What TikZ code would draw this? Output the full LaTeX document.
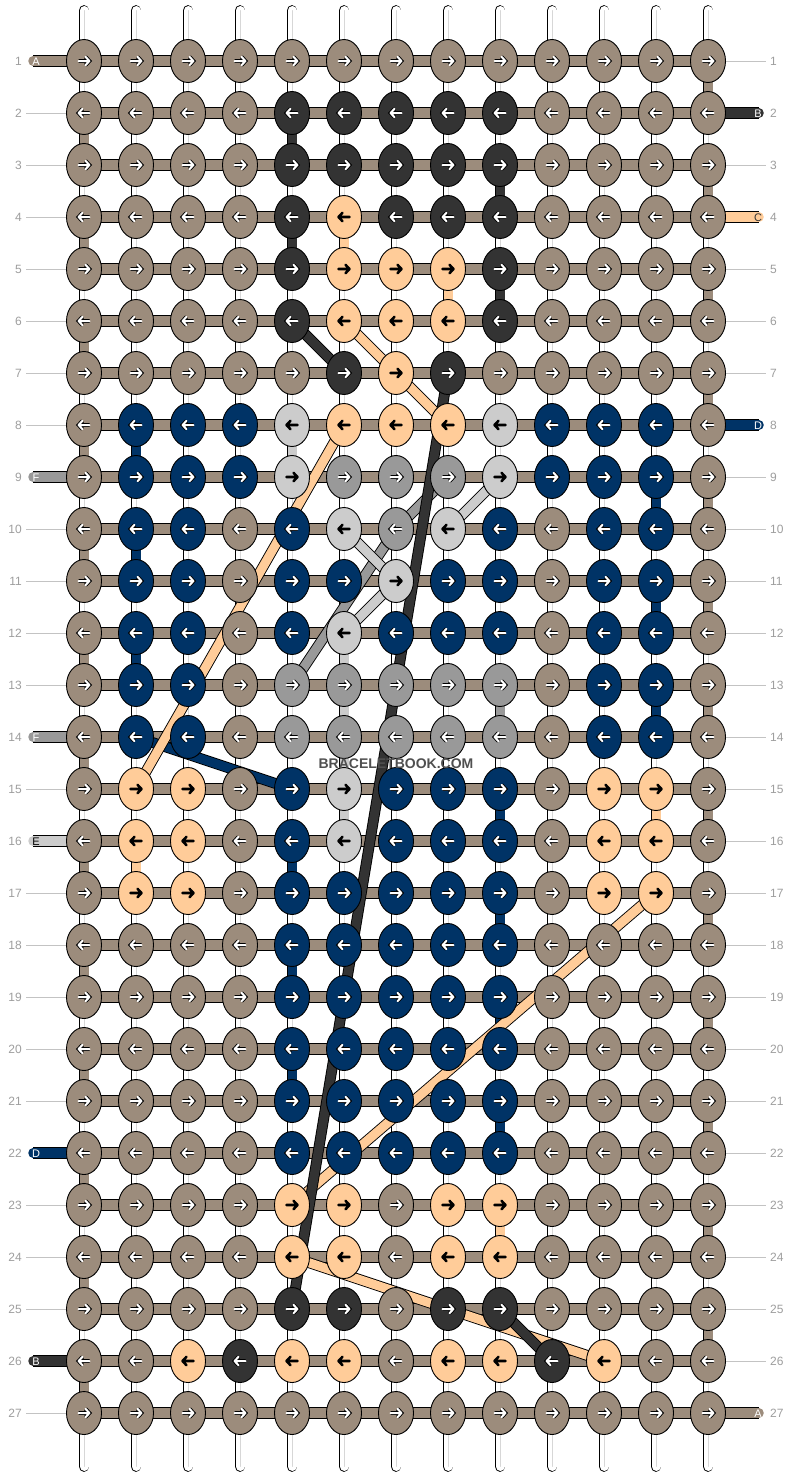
\documentclass[tikz,border=0pt]{standalone}
\usepackage{fontspec}
\setmainfont{Liberation Sans}
\usetikzlibrary{shapes.geometric}
\definecolor{cA}{RGB}{156,140,124}
\definecolor{cB}{RGB}{51,51,51}
\definecolor{cC}{RGB}{255,204,153}
\definecolor{cD}{RGB}{0,51,102}
\definecolor{cE}{RGB}{204,204,204}
\definecolor{cF}{RGB}{153,153,153}
\definecolor{numgray}{RGB}{158,158,158}
\definecolor{linegray}{RGB}{195,195,195}
\definecolor{midgray}{RGB}{215,215,215}
\definecolor{wmgray}{RGB}{80,80,80}
\pgfdeclarelayer{base}
\pgfdeclarelayer{bars}
\pgfdeclarelayer{threads}
\pgfsetlayers{base,bars,threads,main}
\tikzset{
  knot/.style={ellipse, draw=black, line width=0.9pt, minimum width=35pt, minimum height=43pt, inner sep=0pt},
  kb/.style={knot, fill=cA}, kd/.style={knot, fill=cB}, kp/.style={knot, fill=cC},
  kn/.style={knot, fill=cD}, kg/.style={knot, fill=cF}, kl/.style={knot, fill=cE},
  arrW/.style={white, line width=2pt, line cap=round, line join=round, preaction={draw=black, line width=3.8pt}},
  arrK/.style={black, line width=2.6pt, line cap=round, line join=round},
  ab/.style={arrW}, ad/.style={arrW}, an/.style={arrW}, ag/.style={arrW}, ap/.style={arrK}, al/.style={arrK},
  thread/.style={line width=9pt, line cap=butt, preaction={draw=black, line width=10.8pt}},
  barstyle/.style={draw=cA, line width=9.5pt, line cap=butt, preaction={draw=black, line width=11.5pt}},
  stub/.style={line width=9.5pt, line cap=round, preaction={draw=black, line width=11.5pt}},
  basestr/.style={draw=white, line width=9pt, line cap=round, preaction={draw=black, line width=10.8pt, line cap=round}, postaction={draw=midgray, line width=0.8pt}},
  rowline/.style={draw=linegray, line width=1pt},
  rownum/.style={text=numgray, font=\fontsize{12}{12}\selectfont, inner sep=0pt},
  stubtxt/.style={font=\fontsize{11}{11}\selectfont, inner sep=0pt},
}
\begin{document}
\begin{tikzpicture}[x=1pt,y=-1pt]
\useasboundingbox (0,0) rectangle (792,1476);
\begin{pgfonlayer}{base}
\fill[white] (0,0) rectangle (792,1476);
\end{pgfonlayer}
% knots
\foreach \r/\L in {
 1/{b,b,b,b,b,b,b,b,b,b,b,b,b},
 2/{b,b,b,b,d,d,d,d,d,b,b,b,b},
 3/{b,b,b,b,d,d,d,d,d,b,b,b,b},
 4/{b,b,b,b,d,p,d,d,d,b,b,b,b},
 5/{b,b,b,b,d,p,p,p,d,b,b,b,b},
 6/{b,b,b,b,d,p,p,p,d,b,b,b,b},
 7/{b,b,b,b,b,d,p,d,b,b,b,b,b},
 8/{b,n,n,n,l,p,p,p,l,n,n,n,b},
 9/{b,n,n,n,l,g,g,g,l,n,n,n,b},
 10/{b,n,n,b,n,l,g,l,n,b,n,n,b},
 11/{b,n,n,b,n,n,l,n,n,b,n,n,b},
 12/{b,n,n,b,n,l,n,n,n,b,n,n,b},
 13/{b,n,n,b,g,g,g,g,g,b,n,n,b},
 14/{b,n,n,b,g,g,g,g,g,b,n,n,b},
 15/{b,p,p,b,n,l,n,n,n,b,p,p,b},
 16/{b,p,p,b,n,l,n,n,n,b,p,p,b},
 17/{b,p,p,b,n,n,n,n,n,b,p,p,b},
 18/{b,b,b,b,n,n,n,n,n,b,b,b,b},
 19/{b,b,b,b,n,n,n,n,n,b,b,b,b},
 20/{b,b,b,b,n,n,n,n,n,b,b,b,b},
 21/{b,b,b,b,n,n,n,n,n,b,b,b,b},
 22/{b,b,b,b,n,n,n,n,n,b,b,b,b},
 23/{b,b,b,b,p,p,b,p,p,b,b,b,b},
 24/{b,b,b,b,p,p,b,p,p,b,b,b,b},
 25/{b,b,b,b,d,d,b,d,d,b,b,b,b},
 26/{b,b,p,d,p,p,b,p,p,d,p,b,b},
 27/{b,b,b,b,b,b,b,b,b,b,b,b,b}}{
  \pgfmathtruncatemacro\s{1-2*mod(\r+1,2)}
  \foreach \k [count=\c] in \L {
    \node[k\k] (k-\r-\c) at ({84+52*(\c-1)},{61+52*(\r-1)}) {};
    \draw[a\k, shift={(k-\r-\c.center)}, xscale=\s] (-5.5,0) -- (5.5,0) (1.5,-4.2) -- (5.5,0) -- (1.5,4.2);
  }
}
% base strings
\begin{pgfonlayer}{base}
\foreach \c in {1,...,13}{
  \coordinate (top-\c) at ({84+52*(\c-1)},10.5);
  \coordinate (bot-\c) at ({84+52*(\c-1)},1466.5);
  \draw[basestr] (top-\c) -- (bot-\c);
}
\end{pgfonlayer}
% row bars, labels
\begin{pgfonlayer}{bars}
\foreach \r in {1,...,27}{
  \draw[barstyle] (k-\r-1.center) -- (k-\r-13.center);
  \node[rownum, anchor=east] (ln-\r) at (22,{61+52*(\r-1)}) {\r};
  \node[rownum, anchor=west] (rn-\r) at (770,{61+52*(\r-1)}) {\r};
}
\foreach \r in {2,3,4,5,6,7,8,10,11,12,13,15,17,18,19,20,21,23,24,25,27}{
  \coordinate (lle-\r) at (26,{61+52*(\r-1)});
  \draw[rowline] (lle-\r) -- (k-\r-1.west);
}
\foreach \r in {1,3,5,6,7,9,10,11,12,13,14,15,16,17,18,19,20,21,22,23,24,25,26}{
  \coordinate (rle-\r) at (766,{61+52*(\r-1)});
  \draw[rowline] (k-\r-13.east) -- (rle-\r);
}
\foreach \r/\col/\txt/\tc in {1/cA/A/white,9/cF/F/white,14/cF/F/white,16/cE/E/black,22/cD/D/white,26/cB/B/white}{
  \coordinate (sl-\r) at (33,{61+52*(\r-1)});
  \draw[stub, draw=\col] (k-\r-1.center) -- (sl-\r);
  \node[stubtxt, text=\tc] (slt-\r) at (36,{61.5+52*(\r-1)}) {\txt};
}
\foreach \r/\col/\txt/\tc in {2/cB/B/white,4/cC/C/black!80,8/cD/D/white,27/cA/A/white}{
  \coordinate (sr-\r) at (759,{61+52*(\r-1)});
  \draw[stub, draw=\col] (k-\r-13.center) -- (sr-\r);
  \node[stubtxt, text=\tc] (srt-\r) at (758,{61.5+52*(\r-1)}) {\txt};
}
\end{pgfonlayer}
% threads
\begin{pgfonlayer}{threads}
\foreach \r in {1,3,...,25}{
  \pgfmathtruncatemacro\rr{\r+1}
  \draw[thread, draw=cA] (k-\r-13.center) -- (k-\rr-13.center);
}
\foreach \r in {2,4,...,26}{
  \pgfmathtruncatemacro\rr{\r+1}
  \draw[thread, draw=cA] (k-\r-1.center) -- (k-\rr-1.center);
}
\foreach \col/\ra/\ca/\rb/\cb in {
  cD/8/2/9/2, cD/9/12/10/12, cD/10/2/11/2, cD/11/12/12/12, cD/12/2/13/2,
  cD/13/12/14/12, cD/14/2/15/5, cD/15/9/16/9, cD/16/5/17/5, cD/17/9/18/9,
  cD/18/5/19/5, cD/19/9/20/9, cD/20/5/21/5, cD/21/9/22/9,
  cF/9/8/10/7, cF/10/7/13/5, cF/13/9/14/9,
  cE/8/5/9/5, cE/9/9/10/8, cE/10/6/11/7, cE/11/7/12/6, cE/12/6/15/6, cE/15/6/16/6,
  cC/4/6/5/6, cC/5/8/6/8, cC/6/6/7/7, cC/7/7/8/8, cC/8/6/15/2, cC/15/12/16/12,
  cC/16/2/17/2, cC/17/12/23/5, cC/23/9/24/9, cC/24/5/26/11,
  cB/2/5/3/5, cB/3/9/4/9, cB/4/5/5/5, cB/5/9/6/9, cB/6/5/7/6, cB/7/8/25/5, cB/25/9/26/10}{
  \draw[thread, draw=\col] (k-\ra-\ca.center) -- (k-\rb-\cb.center);
}
\end{pgfonlayer}
\node[font=\bfseries\fontsize{14}{14}\selectfont, text=wmgray, inner sep=0pt] (wm) at (396,763.5) {BRACELETBOOK.COM};
\end{tikzpicture}
\end{document}
